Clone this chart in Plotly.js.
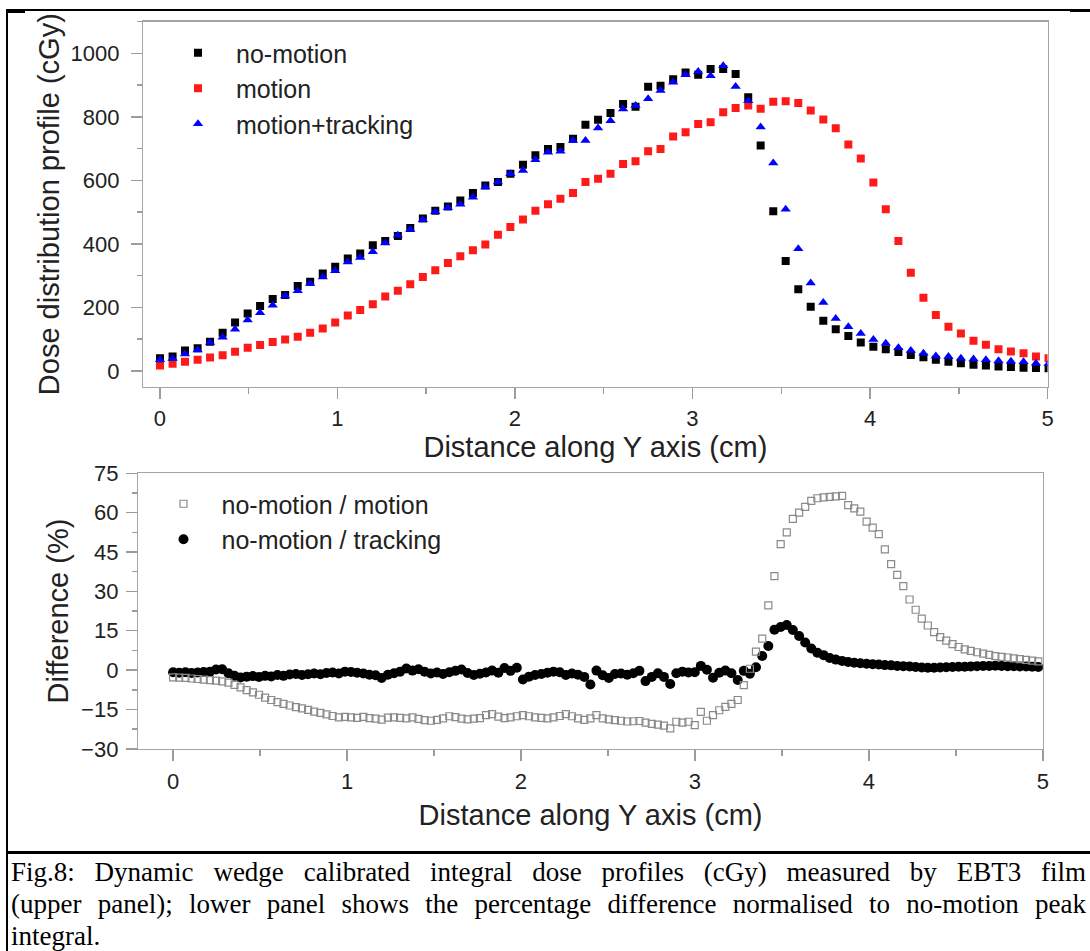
<!DOCTYPE html>
<html><head><meta charset="utf-8">
<script src="https://cdn.plot.ly/plotly-3.0.1.min.js"></script>
<style>
html,body{margin:0;padding:0;background:#fff;}
#wrap{position:relative;width:1090px;height:951px;overflow:hidden;background:#fff;}
#chart{position:absolute;left:0;top:0;width:1090px;height:951px;}
.ln{position:absolute;background:#000;}
.cap{position:absolute;left:11px;width:1075px;font-family:"Liberation Serif","Times New Roman",serif;font-size:27px;line-height:32px;color:#000;}
.j{text-align:justify;text-align-last:justify;}
</style></head>
<body>
<div id="wrap">
  <div id="chart"></div>
  <div class="ln" style="left:6px;top:9px;width:1084px;height:1.5px;"></div>
  <div class="ln" style="left:6px;top:10px;width:19px;height:2.5px;"></div>
  <div class="ln" style="left:1070px;top:10px;width:20px;height:2px;"></div>
  <div class="ln" style="left:6px;top:9px;width:2px;height:942px;"></div>
  <div class="ln" style="left:6px;top:851px;width:1084px;height:2.5px;"></div>
  <div class="cap j" style="top:856px;">Fig.8: Dynamic wedge calibrated integral dose profiles (cGy) measured by EBT3 film</div>
  <div class="cap j" style="top:888px;">(upper panel); lower panel shows the percentage difference normalised to no-motion peak</div>
  <div class="cap" style="top:920px;">integral.</div>
</div>
<script>
// ---------- Upper panel data ----------
const xTop = [0, 0.071, 0.141, 0.212, 0.282, 0.353, 0.423, 0.494, 0.564, 0.635,
  0.705, 0.776, 0.846, 0.917, 0.987, 1.058, 1.128, 1.199, 1.269, 1.340,
  1.410, 1.481, 1.551, 1.622, 1.692, 1.763, 1.833, 1.904, 1.974, 2.045,
  2.115, 2.186, 2.256, 2.327, 2.397, 2.468, 2.538, 2.609, 2.679, 2.750,
  2.820, 2.891, 2.961, 3.032, 3.102, 3.173, 3.243, 3.314, 3.384, 3.455,
  3.525, 3.596, 3.666, 3.737, 3.807, 3.878, 3.948, 4.019, 4.089, 4.160,
  4.230, 4.301, 4.371, 4.442, 4.512, 4.583, 4.653, 4.724, 4.794, 4.865,
  4.935, 5.006];
const noMotion = [40, 45, 64, 71, 92, 120, 152, 181, 204, 226,
  239, 267, 281, 307, 328, 354, 370, 396, 409, 425,
  450, 480, 504, 518, 537, 560, 584, 595, 621, 649,
  679, 699, 705, 731, 775, 791, 812, 841, 832, 895,
  898, 919, 940, 933, 951, 951, 935, 862, 710, 503,
  346, 257, 202, 158, 131, 110, 89, 76, 68, 59,
  50, 43, 35, 29, 24, 19, 17, 14, 12, 10,
  9, 8];
const motion = [17, 22, 29, 35, 42, 49, 60, 73, 81, 91,
  99, 107, 120, 133, 152, 174, 192, 210, 234, 252,
  273, 296, 317, 340, 361, 380, 398, 429, 453, 477,
  504, 525, 542, 560, 595, 605, 621, 652, 660, 692,
  699, 738, 752, 778, 783, 815, 828, 836, 826, 848,
  849, 844, 820, 792, 764, 713, 669, 593, 509, 409,
  309, 230, 176, 139, 118, 95, 82, 68, 61, 55,
  45, 40];
const tracking = [35, 39, 53, 66, 89, 106, 131, 160, 183, 207,
  236, 252, 275, 296, 315, 343, 357, 375, 403, 427,
  445, 476, 501, 514, 525, 547, 579, 595, 621, 631,
  665, 689, 692, 726, 726, 765, 788, 825, 836, 857,
  883, 909, 933, 943, 930, 961, 896, 851, 768, 655,
  509, 385, 277, 215, 165, 139, 118, 99, 87, 73,
  64, 55, 47, 45, 40, 37, 35, 32, 30, 29,
  24, 22];

// ---------- Lower panel data ----------
const xBot = [0.000, 0.035, 0.071, 0.106, 0.141, 0.176, 0.212, 0.247, 0.282, 0.318,
  0.353, 0.388, 0.423, 0.459, 0.494, 0.529, 0.564, 0.600, 0.635, 0.670,
  0.706, 0.741, 0.776, 0.811, 0.847, 0.882, 0.917, 0.953, 0.988, 1.023,
  1.058, 1.094, 1.129, 1.164, 1.199, 1.235, 1.270, 1.305, 1.341, 1.376,
  1.411, 1.446, 1.482, 1.517, 1.552, 1.588, 1.623, 1.658, 1.693, 1.729,
  1.764, 1.799, 1.834, 1.870, 1.905, 1.940, 1.976, 2.011, 2.046, 2.081,
  2.117, 2.152, 2.187, 2.223, 2.258, 2.293, 2.328, 2.364, 2.399, 2.434,
  2.470, 2.505, 2.540, 2.575, 2.611, 2.646, 2.681, 2.716, 2.752, 2.787,
  2.822, 2.858, 2.893, 2.928, 2.963, 2.999, 3.034, 3.069, 3.104, 3.140,
  3.175, 3.210, 3.246, 3.281, 3.316, 3.351, 3.387, 3.422, 3.457, 3.493,
  3.528, 3.563, 3.599, 3.634, 3.669, 3.704, 3.740, 3.775, 3.810, 3.846,
  3.881, 3.916, 3.951, 3.987, 4.022, 4.057, 4.092, 4.128, 4.163, 4.198,
  4.234, 4.269, 4.304, 4.339, 4.375, 4.410, 4.445, 4.481, 4.516, 4.551,
  4.586, 4.622, 4.657, 4.692, 4.727, 4.763, 4.798, 4.833, 4.868, 4.904,
  4.939, 4.974];
const diffMotion = [-2.8, -2.9, -3.0, -3.2, -3.4, -3.6, -3.8, -4.0, -4.3, -4.8,
  -5.6, -6.6, -7.6, -8.5, -9.4, -10.5, -11.4, -12.2, -12.9, -13.5,
  -14.1, -14.6, -15.2, -15.8, -16.3, -16.9, -17.5, -18.0, -17.8, -18.0,
  -18.2, -17.8, -18.3, -18.5, -18.9, -18.1, -18.0, -18.2, -18.4, -18.0,
  -18.6, -19.1, -19.3, -19.0, -18.4, -17.6, -17.9, -18.5, -18.8, -18.5,
  -18.3, -17.2, -16.8, -17.7, -18.3, -18.0, -17.6, -17.2, -17.6, -18.0,
  -18.2, -18.4, -18.0, -17.5, -16.8, -17.6, -18.4, -19.0, -18.4, -17.2,
  -18.4, -18.8, -19.1, -19.3, -19.6, -19.5, -19.4, -20.0, -20.5, -20.8,
  -21.2, -22.2, -19.7, -20.0, -19.7, -21.0, -15.9, -19.3, -17.2, -15.3,
  -14.0, -12.9, -11.4, -5.7, 0.5, 7.0, 12.0, 24.7, 35.8, 48.0,
  52.5, 57.6, 60.0, 62.2, 64.5, 65.5, 65.8, 66.0, 66.2, 66.4,
  62.9, 61.6, 60.4, 56.6, 54.3, 51.8, 46.0, 40.4, 36.3, 32.0,
  26.9, 23.0, 19.6, 17.0, 14.5, 12.6, 11.2, 9.9, 8.8, 7.9,
  7.3, 6.8, 6.3, 5.8, 5.3, 5.0, 4.8, 4.5, 4.2, 3.9,
  3.6, 3.3];
const diffTracking = [-0.8, -1.0, -0.8, -1.1, -0.9, -0.7, -0.6, 0.2, 0.3, -1.2,
  -2.2, -2.8, -2.5, -2.3, -2.6, -2.2, -2.4, -1.9, -2.2, -1.7,
  -1.5, -1.9, -1.6, -1.3, -1.6, -1.1, -0.9, -1.3, -0.6, -0.7,
  -1.0, -1.3, -1.8, -2.0, -3.0, -1.8, -1.2, -0.6, 0.6, -0.2,
  0.3, -0.6, -1.3, -0.9, -1.5, -0.8, -0.3, 0.2, -1.1, -1.9,
  -1.4, -0.9, -0.2, -1.0, 0.8, -0.3, 0.9, -3.6, -2.5, -1.9,
  -1.5, -1.0, -0.6, -0.8, -1.9, -1.3, -1.8, -2.6, -5.5, -0.2,
  -2.0, -3.0, -1.5, -1.3, -1.8, -1.2, -0.3, -4.2, -2.6, -1.2,
  -2.6, -5.3, -1.2, -0.6, -0.9, -0.8, 1.6, 0.1, -2.9, -1.0,
  -0.2, -1.2, -3.8, -0.3, -1.4, 1.1, 5.4, 9.2, 15.4, 16.4,
  17.2, 15.3, 13.0, 10.5, 8.2, 6.6, 5.7, 4.6, 4.0, 3.5,
  3.1, 2.8, 2.6, 2.4, 2.2, 2.1, 1.9, 1.8, 1.6, 1.5,
  1.4, 1.2, 1.0, 0.9, 0.9, 1.0, 1.1, 1.2, 1.3, 1.3,
  1.4, 1.5, 1.6, 1.6, 1.7, 1.6, 1.5, 1.5, 1.4, 1.4,
  1.3, 1.2];

const topLegend = ['no-motion', 'motion', 'motion+tracking'];
const botLegend = ['no-motion / motion', 'no-motion / tracking'];
const xTitle = 'Distance along Y axis (cm)';
const yTitleTop = 'Dose distribution profile (cGy)';
const yTitleBot = 'Difference (%)';

// ---------- layout helpers ----------
const W = 1090, H = 951;
const fx = p => p / W, fy = p => 1 - p / H;
const FONT = 'Liberation Sans, Arial, sans-serif';

function axis(extra) {
  return Object.assign({
    showline: true, mirror: true, linecolor: '#a5a5a5', linewidth: 1.5,
    ticks: 'outside', tickcolor: '#9c9c9c', tickwidth: 1.5, ticklen: 11,
    showgrid: false, zeroline: false, fixedrange: true,
    tickfont: {family: FONT, size: 22, color: '#222'}
  }, extra);
}

const traces = [
  {x: xTop, y: motion, name: topLegend[1], type: 'scatter', mode: 'markers', legendrank: 2,
   marker: {symbol: 'square', size: 8, color: '#ff1a1a'}, xaxis: 'x', yaxis: 'y', legend: 'legend'},
  {x: xTop, y: noMotion, name: topLegend[0], type: 'scatter', mode: 'markers', legendrank: 1,
   marker: {symbol: 'square', size: 8, color: '#000'}, xaxis: 'x', yaxis: 'y', legend: 'legend'},
  {x: xTop, y: tracking, name: topLegend[2], type: 'scatter', mode: 'markers', legendrank: 3,
   marker: {symbol: 'triangle-up', size: 9, color: '#0000ff'}, xaxis: 'x', yaxis: 'y', legend: 'legend'},
  {x: xBot, y: diffTracking, name: botLegend[1], type: 'scatter', mode: 'markers', legendrank: 2,
   marker: {symbol: 'circle', size: 10, color: '#000'}, xaxis: 'x2', yaxis: 'y2', legend: 'legend2'},
  {x: xBot, y: diffMotion, name: botLegend[0], type: 'scatter', mode: 'markers', legendrank: 1,
   marker: {symbol: 'square-open', size: 7, color: '#8a8a8a', line: {width: 1.2}}, xaxis: 'x2', yaxis: 'y2', legend: 'legend2'}
];

const layout = {
  width: W, height: H, margin: {l: 0, r: 0, t: 0, b: 0},
  paper_bgcolor: 'rgba(0,0,0,0)', plot_bgcolor: '#fff',
  font: {family: FONT, color: '#222'},
  showlegend: true,
  xaxis: axis({domain: [fx(143.3), fx(1047.5)], range: [-0.094, 5], anchor: 'y',
    dtick: 1, tick0: 0, minor: {dtick: 0.5, ticks: 'outside', ticklen: 6, tickcolor: '#9c9c9c', tickwidth: 1.5},
    ticklabelstandoff: 0,
    title: {text: xTitle, font: {family: FONT, size: 29, color: '#222'}, standoff: 1}}),
  yaxis: axis({domain: [fy(386.7), fy(21.7)], range: [-50, 1100], anchor: 'x',
    dtick: 200, tick0: 0, minor: {dtick: 100, ticks: 'outside', ticklen: 5, tickcolor: '#9c9c9c', tickwidth: 1.5},
    ticklabelstandoff: 7,
    title: {text: yTitleTop, font: {family: FONT, size: 29, color: '#222'}, standoff: 2}}),
  xaxis2: axis({domain: [fx(138.3), fx(1042.8)], range: [-0.2, 5], anchor: 'y2',
    dtick: 1, tick0: 0, minor: {dtick: 0.5, ticks: 'outside', ticklen: 6, tickcolor: '#9c9c9c', tickwidth: 1.5},
    ticklabelstandoff: 1,
    title: {text: xTitle, font: {family: FONT, size: 29, color: '#222'}, standoff: 12}}),
  yaxis2: axis({domain: [fy(748.8), fy(473.3)], range: [-30, 75], anchor: 'x2',
    dtick: 15, tick0: 0, minor: {dtick: 7.5, ticks: 'outside', ticklen: 5, tickcolor: '#9c9c9c', tickwidth: 1.5},
    ticklabelstandoff: 3,
    title: {text: yTitleBot, font: {family: FONT, size: 29, color: '#222'}, standoff: 4}}),
  legend: {x: fx(160), y: fy(30), xanchor: 'left', yanchor: 'top', bgcolor: 'rgba(0,0,0,0)',
    font: {family: FONT, size: 25, color: '#222'}, itemwidth: 66, traceorder: 'normal', borderwidth: 0},
  legend2: {x: fx(145.5), y: fy(481), xanchor: 'left', yanchor: 'top', bgcolor: 'rgba(0,0,0,0)',
    font: {family: FONT, size: 25, color: '#222'}, itemwidth: 66, traceorder: 'normal', borderwidth: 0}
};

Plotly.newPlot('chart', traces, layout, {displayModeBar: false, staticPlot: true});
</script>
</body></html>
